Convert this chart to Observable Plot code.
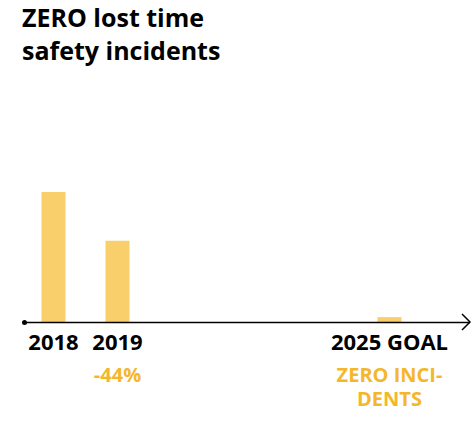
<!DOCTYPE html>
<html>
<head>
<meta charset="utf-8">
<script src="https://cdn.jsdelivr.net/npm/d3@7"></script>
<script src="https://cdn.jsdelivr.net/npm/@observablehq/plot@0.6"></script>
<style>
  html, body { margin: 0; padding: 0; background: #fff; }
  #wrap { position: relative; width: 474px; height: 423px; font-family: "Open Sans", sans-serif; }
  #title { position: absolute; left: 22px; top: 1px; font-size: 25px; font-weight: 700; line-height: 33px; color: #000; letter-spacing: 0px; }
  #chart { position: absolute; left: 0; top: 0; }
</style>
</head>
<body>
<div id="wrap">
  <div id="chart"></div>
  <div id="title">ZERO lost time<br>safety incidents</div>
</div>
<script>
// Data
const categories = ["2018", "2019", "2025 GOAL"];
const values = [16, 10, 0.6];           // relative incident level (goal shown as a thin marker)
const subLabels = ["", "-44%", "ZERO INCI-\nDENTS"];
// axis slots: spacer slots so the goal sits further out on the axis
const gapA = ["a1", "a2", "a3"];
const gapB = ["b1","b2","b3","b4","b5","b6","b7","b8","b9","b10","b11","b12","b13","b14","b15","b16"];
const slots = ["2018", ...gapA, "2019", ...gapB, "2025 GOAL"];

const data = categories.map((c, i) => ({cat: c, value: values[i], sub: subLabels[i]}));

const barColor = "#F8CF6A";
const accent = "#F4B72C";

const arrowHead = (index, scales, vals, dims) => {
  const y = scales.y(0);
  const x = dims.width - dims.marginRight;
  const g = document.createElementNS("http://www.w3.org/2000/svg", "path");
  g.setAttribute("d", `M${x - 8},${y - 8}L${x},${y}L${x - 8},${y + 8}`);
  g.setAttribute("fill", "none");
  g.setAttribute("stroke", "#000");
  g.setAttribute("stroke-width", "1.5");
  return g;
};

const chart = Plot.plot({
  width: 474,
  height: 423,
  marginLeft: 24,
  marginRight: 4,
  marginTop: 0,
  marginBottom: 0,
  style: {fontFamily: "'Open Sans', sans-serif", background: "transparent"},
  x: {type: "point", domain: slots, range: [53, 389], padding: 0, axis: null},
  y: {domain: [0, 16], range: [322, 192], axis: null},
  marks: [
    Plot.ruleX(data, {x: "cat", y1: 0, y2: "value", stroke: barColor, strokeWidth: 24}),
    Plot.ruleY([0], {stroke: "#000", strokeWidth: 1.5}),
    Plot.dot([0], {y: d => d, frameAnchor: "left", r: 2.5, fill: "#000", stroke: null}),
    arrowHead,
    Plot.text(data, {x: "cat", y: 0, text: "cat", dy: 20, fontSize: 22, fontWeight: 700, fill: "#000"}),
    Plot.text(data, {x: "cat", y: 0, text: "sub", dy: 42, lineAnchor: "top", fontSize: 20, fontWeight: 700, lineHeight: 1.2, fill: accent})
  ]
});
document.getElementById("chart").appendChild(chart);
</script>
</body>
</html>
